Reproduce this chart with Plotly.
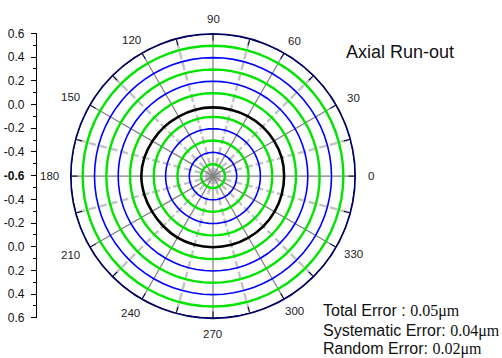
import math
import plotly.graph_objects as go

# ---- data ----
ring_values = [-0.5, -0.4, -0.3, -0.2, -0.1, 0.1, 0.2, 0.3, 0.4, 0.5, 0.6]
ring_colors = ["green", "blue", "green", "blue", "green", "green", "blue", "green", "blue", "green", "navy"]
ring_theta = list(range(0, 361, 5))

meas_theta = [0, 15, 30, 45, 60, 75, 90, 105, 120, 135, 150, 165, 180,
              195, 210, 225, 240, 255, 270, 285, 300, 315, 330, 345, 360]
meas_r = [0.0, 0.0, -0.005, -0.01, -0.015, -0.02, -0.02, -0.02, -0.02, -0.015, -0.01, 0.0, 0.005,
          0.0, -0.005, -0.005, 0.0, 0.0, 0.0, 0.0, 0.0, 0.0, 0.0, 0.0, 0.0]

major_angles = [0, 30, 60, 90, 120, 150, 180, 210, 240, 270, 300, 330]
minor_angles = [15, 45, 75, 105, 135, 165, 195, 225, 255, 285, 315, 345]
angle_labels = ["0", "30", "60", "90", "120", "150", "180", "210", "240", "270", "300", "330"]

y_tickvals = [1.2, 1.0, 0.8, 0.6, 0.4, 0.2, 0.0, -0.2, -0.4, -0.6, -0.8, -1.0, -1.2]
y_ticktext = ["0.6", "0.4", "0.2", "0.0", "-0.2", "-0.4", "<b>-0.6</b>", "-0.4", "-0.2", "0.0", "0.2", "0.4", "0.6"]
y_minorvals = [1.1, 0.9, 0.7, 0.5, 0.3, 0.1, -0.1, -0.3, -0.5, -0.7, -0.9, -1.1]

title_text = "Axial Run-out"
error_labels = ["Total Error : ", "Systematic Error: ", "Random Error: "]
error_values = ["0.05μm", "0.04μm", "0.02μm"]

color_map = {"green": "#00e400", "blue": "#0000ff", "navy": "#000070"}
width_map = {"green": 2.4, "blue": 1.6, "navy": 1.6}

fig = go.Figure()

# spokes
for a in minor_angles:
    fig.add_trace(go.Scatterpolar(r=[-0.6, 0.6], theta=[a, a], mode="lines",
                                  line=dict(color="#c4c4c4", width=2.4, dash="8px,3px"),
                                  hoverinfo="skip", showlegend=False))
for a in major_angles:
    fig.add_trace(go.Scatterpolar(r=[-0.6, 0.6], theta=[a, a], mode="lines",
                                  line=dict(color="#7f7f7f", width=1.2),
                                  hoverinfo="skip", showlegend=False))

# rings
for v, c in zip(ring_values, ring_colors):
    fig.add_trace(go.Scatterpolar(r=[v] * len(ring_theta), theta=ring_theta, mode="lines",
                                  line=dict(color=color_map[c], width=width_map[c]),
                                  hoverinfo="skip", showlegend=False))

# measurement
fig.add_trace(go.Scatterpolar(r=meas_r, theta=meas_theta, mode="lines",
                              line=dict(color="black", width=2.6, shape="spline"),
                              showlegend=False))

# dummy cartesian trace for the left axis
fig.add_trace(go.Scatter(x=[0], y=[0], mode="markers", marker=dict(opacity=0),
                         hoverinfo="skip", showlegend=False, xaxis="x", yaxis="y"))

W, H = 502, 358
cx, cy, R = 213, 176, 148
fig.update_layout(
    width=W, height=H,
    margin=dict(l=0, r=0, t=0, b=0),
    paper_bgcolor="white", plot_bgcolor="white",
    polar=dict(
        domain=dict(x=[(cx - R) / W, (cx + R) / W], y=[(H - cy - R) / H, (H - cy + R) / H]),
        bgcolor="white",
        radialaxis=dict(range=[-0.6, 0.6], visible=False, showgrid=False),
        angularaxis=dict(rotation=0, direction="counterclockwise",
                         tickmode="array",
                         tickvals=sorted(major_angles + minor_angles),
                         showticklabels=False,
                         ticks="inside", ticklen=6, tickwidth=1.2, tickcolor="#000040",
                         showgrid=False, showline=True, linecolor="#000060", linewidth=1.6),
    ),
    xaxis=dict(domain=[0.0, 0.05], visible=False, range=[-1, 1]),
    yaxis=dict(anchor="free", position=36 / W, domain=[(H - 323.5) / H, (H - 27.5) / H],
               range=[-1.2, 1.2], tickmode="array", tickvals=y_tickvals, ticktext=y_ticktext,
               ticks="outside", ticklen=5, tickcolor="black", tickwidth=1,
               ticklabelstandoff=4,
               showline=True, linecolor="black", linewidth=1.2, showgrid=False, zeroline=False,
               tickfont=dict(family="Arial, Liberation Sans", size=12, color="#111111"),
               minor=dict(tickmode="array", tickvals=y_minorvals, ticks="outside", ticklen=3,
                          tickcolor="black", showgrid=False)),
    showlegend=False,
)

# angular tick labels placed just outside the outer circle
for a, lab in zip(major_angles, angle_labels):
    LR = 158 if a == 0 else (162 if 0 < a < 90 or a > 270 else 164)
    px = cx + LR * math.cos(math.radians(a))
    py = cy - LR * math.sin(math.radians(a))
    fig.add_annotation(text=lab, x=px / W, y=1 - py / H, xref="paper", yref="paper",
                       xanchor="center", yanchor="middle", showarrow=False,
                       font=dict(family="Arial, Liberation Sans", size=11.5, color="#222222"))

fig.add_annotation(text=title_text, x=344 / W, y=1 - 47 / H, xref="paper", yref="paper",
                   xanchor="left", yanchor="middle", showarrow=False,
                   font=dict(family="Arial, Liberation Sans", size=18, color="#111111"))

ys = [316, 337, 356]
for lab, val, yy in zip(error_labels, error_values, ys):
    fig.add_annotation(
        text=lab + '<span style="font-family:Liberation Serif">' + val + '</span>',
        x=321 / W, y=1 - yy / H, xref="paper", yref="paper",
        xanchor="left", yanchor="middle", showarrow=False,
        font=dict(family="Arial, Liberation Sans", size=16, color="#111111"))

fig.write_html("out.html")
